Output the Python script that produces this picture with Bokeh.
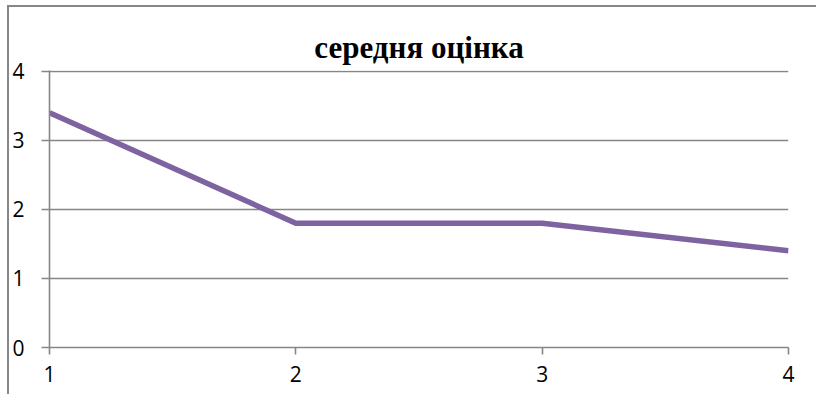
from bokeh.plotting import figure
from bokeh.models import FixedTicker, Range1d
from bokeh.embed import file_html
from bokeh.resources import INLINE

title_text = "середня оцінка"
x_values = [1, 2, 3, 4]
avg_score = [3.4, 1.8, 1.8, 1.4]
y_ticks = [0, 1, 2, 3, 4]

GRID = "#868686"

p = figure(width=816, height=394, output_backend="svg", toolbar_location=None,
           x_range=Range1d(1, 4), y_range=Range1d(0, 4.01),
           min_border_left=49, min_border_right=28, min_border_top=70, min_border_bottom=47,
           background_fill_color="white", border_fill_color="white", border_fill_alpha=0,
           title=title_text)
p.outline_line_color = None
p.styles = {
    "background-color": "white",
    "background-image": "linear-gradient(#878787, #878787), linear-gradient(#878787, #878787)",
    "background-size": "100% 2px, 2px 100%",
    "background-position": "7px 5px, 7px 5px",
    "background-repeat": "no-repeat",
}

p.title.align = "center"
p.title.text_font = "Liberation Serif"
p.title.text_font_style = "bold"
p.title.text_font_size = "31px"
p.title.text_color = "#000000"
p.title.standoff = 12

p.line(x_values, avg_score, line_color="#7f63a1", line_width=5.5, line_join="round")

p.xgrid.visible = False
p.ygrid.ticker = FixedTicker(ticks=y_ticks)
p.ygrid.grid_line_color = GRID
p.ygrid.grid_line_width = 1.6

for ax in (p.xaxis[0], p.yaxis[0]):
    ax.axis_line_color = GRID
    ax.axis_line_width = 1.6
    ax.major_tick_line_color = GRID
    ax.major_tick_line_width = 1.6
    ax.major_tick_in = 0
    ax.minor_tick_line_color = None
    ax.major_label_text_font = "Open Sans"
    ax.major_label_text_font_size = "21px"
    ax.major_label_text_color = "#000000"

p.xaxis[0].ticker = FixedTicker(ticks=x_values)
p.xaxis[0].major_tick_out = 7
p.xaxis[0].major_label_standoff = 11
p.yaxis[0].ticker = FixedTicker(ticks=y_ticks)
p.yaxis[0].major_tick_out = 8
p.yaxis[0].major_label_standoff = 17

open("out.html", "w").write(file_html(p, INLINE))
